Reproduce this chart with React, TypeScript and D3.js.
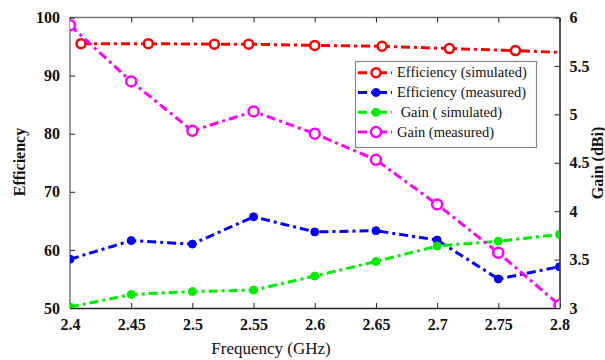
import * as d3 from "d3";
import React, { useEffect, useRef } from "react";

// data
const effSimFreq = [2.409, 2.464, 2.518, 2.546, 2.6, 2.655, 2.71, 2.764, 2.8];
const effSim = [95.5, 95.5, 95.4, 95.4, 95.2, 95.05, 94.65, 94.3, 94.0];

const freq = [2.4, 2.45, 2.5, 2.55, 2.6, 2.65, 2.7, 2.75, 2.8];
const effMeas = [58.4, 61.6, 61.0, 65.7, 63.1, 63.3, 61.7, 55.0, 57.1];
const gainSim = [3.01, 3.14, 3.17, 3.185, 3.33, 3.48, 3.64, 3.69, 3.76];
const gainMeas = [5.92, 5.34, 4.83, 5.03, 4.8, 4.53, 4.07, 3.57, 3.03];

const xTicks = [2.4, 2.45, 2.5, 2.55, 2.6, 2.65, 2.7, 2.75, 2.8];
const effTicks = [50, 60, 70, 80, 90, 100];
const gainTicks = [3, 3.5, 4, 4.5, 5, 5.5, 6];

const legendLabels = [
  "Efficiency (simulated)",
  "Efficiency (measured)",
  " Gain ( simulated)",
  "Gain (measured)",
];

const font = "Liberation Serif, DejaVu Serif, Times New Roman, serif";

export default function App() {
  const svgRef = useRef(null);
  const width = 605;
  const height = 360;
  const margin = { top: 17.5, right: 45.5, bottom: 52, left: 70 };

  useEffect(() => {
    const svg = d3.select(svgRef.current);
    svg.selectAll("*").remove();

    const x = d3
      .scaleLinear()
      .domain([2.4, 2.8])
      .range([margin.left, width - margin.right]);
    const yL = d3
      .scaleLinear()
      .domain([50, 100])
      .range([height - margin.bottom, margin.top]);
    const yR = d3
      .scaleLinear()
      .domain([3, 6])
      .range([height - margin.bottom, margin.top]);

    const x0 = margin.left,
      x1 = width - margin.right,
      y0 = margin.top,
      y1 = height - margin.bottom;

    svg
      .append("defs")
      .append("clipPath")
      .attr("id", "plotclip")
      .append("rect")
      .attr("x", x0)
      .attr("y", y0 - 10)
      .attr("width", x1 - x0)
      .attr("height", y1 - y0 + 10);

    // frame
    svg.append("line").attr("x1", x0).attr("x2", x1).attr("y1", y0).attr("y2", y0).attr("stroke", "#777").attr("stroke-width", 1.5);
    svg.append("line").attr("x1", x0).attr("x2", x0).attr("y1", y0).attr("y2", y1).attr("stroke", "#777").attr("stroke-width", 1.5);

    /* X axis bottom */
    const gx = svg
      .append("g")
      .attr("transform", "translate(0," + y1 + ")")
      .call(
        d3
          .axisBottom(x)
          .tickValues(xTicks)
          .tickSizeInner(-5)
          .tickSizeOuter(0)
          .tickPadding(11)
          .tickFormat((d) => String(d))
      );
    /* X axis top (ticks only) */
    const gxt = svg
      .append("g")
      .attr("transform", "translate(0," + y0 + ")")
      .call(d3.axisTop(x).tickValues(xTicks).tickSizeInner(-5).tickSizeOuter(0).tickFormat(() => ""));
    gxt.select(".domain").remove();

    /* left axis */
    const gl = svg
      .append("g")
      .attr("transform", "translate(" + x0 + ",0)")
      .call(d3.axisLeft(yL).tickValues(effTicks).tickSizeInner(-5).tickSizeOuter(0).tickPadding(10));
    gl.select(".domain").remove();

    /* right axis */
    const gr = svg
      .append("g")
      .attr("transform", "translate(" + x1 + ",0)")
      .call(
        d3
          .axisRight(yR)
          .tickValues(gainTicks)
          .tickSizeInner(-5)
          .tickSizeOuter(0)
          .tickPadding(10)
          .tickFormat((d) => String(d))
      );

    [gx, gxt, gl, gr].forEach((g) => {
      g.attr("font-family", null).attr("font-size", null);
      g.selectAll("line").attr("stroke", "#222");
      g.select(".domain").attr("stroke", "#222").attr("stroke-width", 1.5);
      g.selectAll("text")
        .style("font-family", font)
        .style("font-size", "16px")
        .style("font-weight", "bold")
        .attr("fill", "#111");
    });

    // axis titles
    const title = (t, tr, size, bold) =>
      svg
        .append("text")
        .attr("transform", tr)
        .attr("text-anchor", "middle")
        .style("font-family", font)
        .style("font-size", size + "px")
        .style("font-weight", bold ? "bold" : "normal")
        .attr("fill", "#111")
        .text(t);
    title("Frequency (GHz)", "translate(271,354)", 17, false);
    title("Efficiency", "translate(25,162) rotate(-90)", 16, true);
    title("Gain (dBi)", "translate(603,163) rotate(-90)", 16, true);

    const series = [
      { xs: effSimFreq, ys: effSim, y: yL, color: "#ff0000", hollow: true, r: 4.5, noLastMark: true },
      { xs: freq, ys: effMeas, y: yL, color: "#0000ff", hollow: false, r: 4, noLastMark: false },
      { xs: freq, ys: gainSim, y: yR, color: "#00ee00", hollow: false, r: 4, noLastMark: false },
      { xs: freq, ys: gainMeas, y: yR, color: "#ff00ff", hollow: true, r: 5, noLastMark: false },
    ];

    const plot = svg.append("g").attr("clip-path", "url(#plotclip)");
    series.forEach((s) => {
      const pts = s.xs.map((v, i) => [v, s.ys[i]]);
      const line = d3
        .line()
        .x((d) => x(d[0]))
        .y((d) => s.y(d[1]));
      plot
        .append("path")
        .attr("d", line(pts))
        .attr("fill", "none")
        .attr("stroke", s.color)
        .attr("stroke-width", 3)
        .attr("stroke-dasharray", "9,4,3,4");
      const markPts = s.noLastMark ? pts.slice(0, -1) : pts;
      plot
        .selectAll("mark")
        .data(markPts)
        .enter()
        .append("circle")
        .attr("cx", (d) => x(d[0]))
        .attr("cy", (d) => s.y(d[1]))
        .attr("r", s.r)
        .attr("fill", s.hollow ? "white" : s.color)
        .attr("stroke", s.color)
        .attr("stroke-width", s.hollow ? 2.5 : 1);
    });

    // legend
    const lg = svg.append("g");
    lg.append("rect")
      .attr("x", 355.5)
      .attr("y", 61.5)
      .attr("width", 181)
      .attr("height", 86)
      .attr("fill", "white")
      .attr("stroke", "#888")
      .attr("stroke-width", 1.2);
    series.forEach((s, i) => {
      const yy = 72.7 + i * 19.8;
      lg.append("line")
        .attr("x1", 358)
        .attr("x2", 392)
        .attr("y1", yy)
        .attr("y2", yy)
        .attr("stroke", s.color)
        .attr("stroke-width", 3)
        .attr("stroke-dasharray", "9,4,3,4");
      lg.append("circle")
        .attr("cx", 376)
        .attr("cy", yy)
        .attr("r", s.r)
        .attr("fill", s.hollow ? "white" : s.color)
        .attr("stroke", s.color)
        .attr("stroke-width", s.hollow ? 2.5 : 1);
      lg.append("text")
        .attr("x", 397)
        .attr("y", yy + 4.5)
        .style("font-family", font)
        .style("font-size", "14.5px")
        .style("white-space", "pre")
        .attr("fill", "#111")
        .text(legendLabels[i]);
    });
  });

  return (
    <svg
      width={width}
      height={height}
      ref={svgRef}
      style={{ position: "absolute", left: 0, top: 0, background: "white" }}
    ></svg>
  );
}
